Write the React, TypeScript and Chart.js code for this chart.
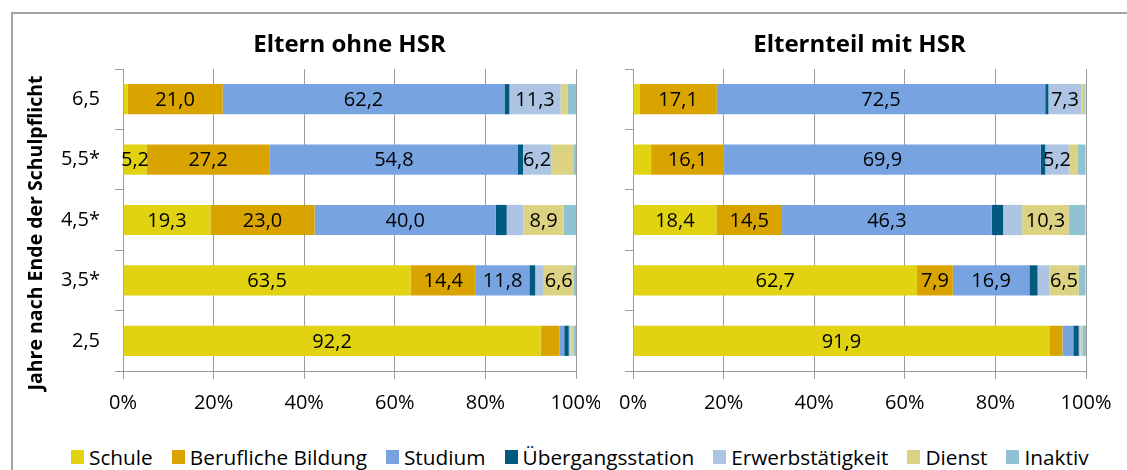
import React, { useEffect, useRef } from "react";
import { Chart, registerables } from "chart.js";

Chart.register(...registerables);

const categories = ["6,5", "5,5*", "4,5*", "3,5*", "2,5"];
const seriesNames = [
  "Schule",
  "Berufliche Bildung",
  "Studium",
  "Übergangsstation",
  "Erwerbstätigkeit",
  "Dienst",
  "Inaktiv",
];
const seriesColors = [
  "#E2D312",
  "#DAA400",
  "#77A4E0",
  "#005A80",
  "#ADC5E3",
  "#DBD283",
  "#8FC2D3",
];
const xTickValues = [0, 20, 40, 60, 80, 100];

// Eltern ohne HSR
const leftSchule = [1.0, 5.2, 19.3, 63.5, 92.2];
const leftBeruf = [21.0, 27.2, 23.0, 14.4, 4.2];
const leftStudium = [62.2, 54.8, 40.0, 11.8, 1.0];
const leftUebergang = [1.1, 1.1, 2.4, 1.3, 1.0];
const leftErwerb = [11.3, 6.2, 3.7, 1.9, 0.4];
const leftDienst = [1.5, 4.9, 8.9, 6.6, 0.7];
const leftInaktiv = [1.9, 0.6, 2.7, 0.5, 0.5];

// Elternteil mit HSR
const rightSchule = [1.4, 4.0, 18.4, 62.7, 91.9];
const rightBeruf = [17.1, 16.1, 14.5, 7.9, 2.9];
const rightStudium = [72.5, 69.9, 46.3, 16.9, 2.4];
const rightUebergang = [0.7, 1.0, 2.5, 1.8, 1.2];
const rightErwerb = [7.3, 5.2, 4.2, 2.6, 0.4];
const rightDienst = [0.6, 1.9, 10.3, 6.5, 0.4];
const rightInaktiv = [0.3, 1.8, 3.7, 1.5, 0.8];

const leftSeries = [leftSchule, leftBeruf, leftStudium, leftUebergang, leftErwerb, leftDienst, leftInaktiv];
const rightSeries = [rightSchule, rightBeruf, rightStudium, rightUebergang, rightErwerb, rightDienst, rightInaktiv];

const FONT = "'Open Sans', Lato, sans-serif";
const GRID = "#9B9B9B";
const TXT = 20;

const valueLabels = {
  id: "valueLabels",
  afterDatasetsDraw(chart: any) {
    const ctx = chart.ctx;
    ctx.save();
    ctx.font = `${TXT}px ${FONT}`;
    ctx.fillStyle = "#000";
    ctx.textAlign = "center";
    ctx.textBaseline = "middle";
    chart.data.datasets.forEach((ds: any, i: number) => {
      const meta = chart.getDatasetMeta(i);
      meta.data.forEach((el: any, j: number) => {
        const v = ds.data[j];
        if (v >= 5) {
          const p = el.getProps(["x", "base", "y"], true);
          ctx.fillText(v.toFixed(1).replace(".", ","), (p.x + p.base) / 2, p.y + 1);
        }
      });
    });
    ctx.restore();
  },
};

function makeTitlePlugin(title: string, yTitle: string | null) {
  return {
    id: "panelTitles",
    afterDraw(chart: any) {
      const ctx = chart.ctx;
      const a = chart.chartArea;
      ctx.save();
      ctx.fillStyle = "#000";
      ctx.textAlign = "center";
      ctx.textBaseline = "middle";
      ctx.font = `bold 24px ${FONT}`;
      ctx.fillText(title, (a.left + a.right) / 2, 45);
      if (yTitle) {
        ctx.translate(36, 233);
        ctx.rotate(-Math.PI / 2);
        ctx.font = `bold 19.5px ${FONT}`;
        ctx.fillText(yTitle, 0, 0);
      }
      ctx.restore();
    },
  };
}

type PanelProps = {
  title: string;
  series: number[][];
  showLabels: boolean;
  left: number;
  width: number;
  yWidth: number;
  padRight: number;
};

function Panel({ title, series, showLabels, left, width, yWidth, padRight }: PanelProps) {
  const ref = useRef<HTMLCanvasElement | null>(null);
  useEffect(() => {
    if (!ref.current) return;
    const chart = new Chart(ref.current, {
      type: "bar",
      data: {
        labels: categories,
        datasets: series.map((d, i) => ({
          label: seriesNames[i],
          data: d,
          backgroundColor: seriesColors[i],
          borderWidth: 0,
          categoryPercentage: 0.5,
          barPercentage: 1,
        })),
      },
      options: {
        indexAxis: "y",
        animation: false,
        responsive: false,
        maintainAspectRatio: false,
        layout: { padding: { top: 69, right: padRight, left: 0, bottom: 0 } },
        plugins: {
          legend: { display: false },
          tooltip: { enabled: false },
          title: { display: false },
        },
        scales: {
          x: {
            stacked: true,
            min: 0,
            max: 100,
            afterBuildTicks: (scale: any) => {
              scale.ticks = xTickValues.map((v) => ({ value: v }));
            },
            afterFit: (scale: any) => {
              scale.height = 49;
              scale.paddingLeft = 0;
              scale.paddingRight = 0;
            },
            grid: { color: GRID, lineWidth: 1, tickLength: 8, drawTicks: true },
            border: { display: true, color: GRID, width: 1 },
            ticks: {
              color: "#000",
              font: { family: FONT, size: TXT },
              padding: 12,
              maxRotation: 0,
              callback: (v: any) => `${v}%`,
            },
          },
          y: {
            stacked: true,
            afterFit: (scale: any) => {
              scale.width = yWidth;
              scale.paddingTop = 0;
              scale.paddingBottom = 0;
            },
            grid: { drawOnChartArea: false, color: GRID, tickLength: 8, drawTicks: true, offset: true },
            border: { display: true, color: GRID, width: 1 },
            ticks: {
              display: showLabels,
              color: "#000",
              font: { family: FONT, size: TXT },
              padding: 15,
            },
          },
        },
      } as any,
      plugins: [valueLabels, makeTitlePlugin(title, showLabels ? "Jahre nach Ende der Schulpflicht" : null)],
    });
    return () => chart.destroy();
  }, []);
  return (
    <canvas
      ref={ref}
      width={width}
      height={420}
      style={{ position: "absolute", left, top: 0, width, height: 420 }}
    />
  );
}

export default function App() {
  return (
    <div
      style={{
        position: "absolute",
        left: 0,
        top: 0,
        width: 1127,
        height: 470,
        overflow: "hidden",
        background: "#fff",
      }}
    >
      <div
        style={{
          position: "absolute",
          left: 11,
          top: 12,
          width: 1200,
          height: 600,
          border: "2px solid #A3A3A3",
        }}
      />
      <Panel title="Eltern ohne HSR" series={leftSeries} showLabels={true} left={0} width={600} yWidth={123} padRight={24} />
      <Panel title="Elternteil mit HSR" series={rightSeries} showLabels={false} left={560} width={567} yWidth={73} padRight={41} />
      <div
        style={{
          position: "absolute",
          left: 71,
          top: 443,
          height: 28,
          display: "flex",
          alignItems: "center",
          fontFamily: FONT,
          fontSize: 20.8,
          lineHeight: "28px",
          color: "#000",
          whiteSpace: "nowrap",
        }}
      >
        {seriesNames.map((n, i) => (
          <div key={n} style={{ display: "flex", alignItems: "center", marginRight: 19 }}>
            <span style={{ display: "inline-block", width: 13, height: 14, background: seriesColors[i], marginRight: 5 }} />
            <span>{n}</span>
          </div>
        ))}
      </div>
    </div>
  );
}
